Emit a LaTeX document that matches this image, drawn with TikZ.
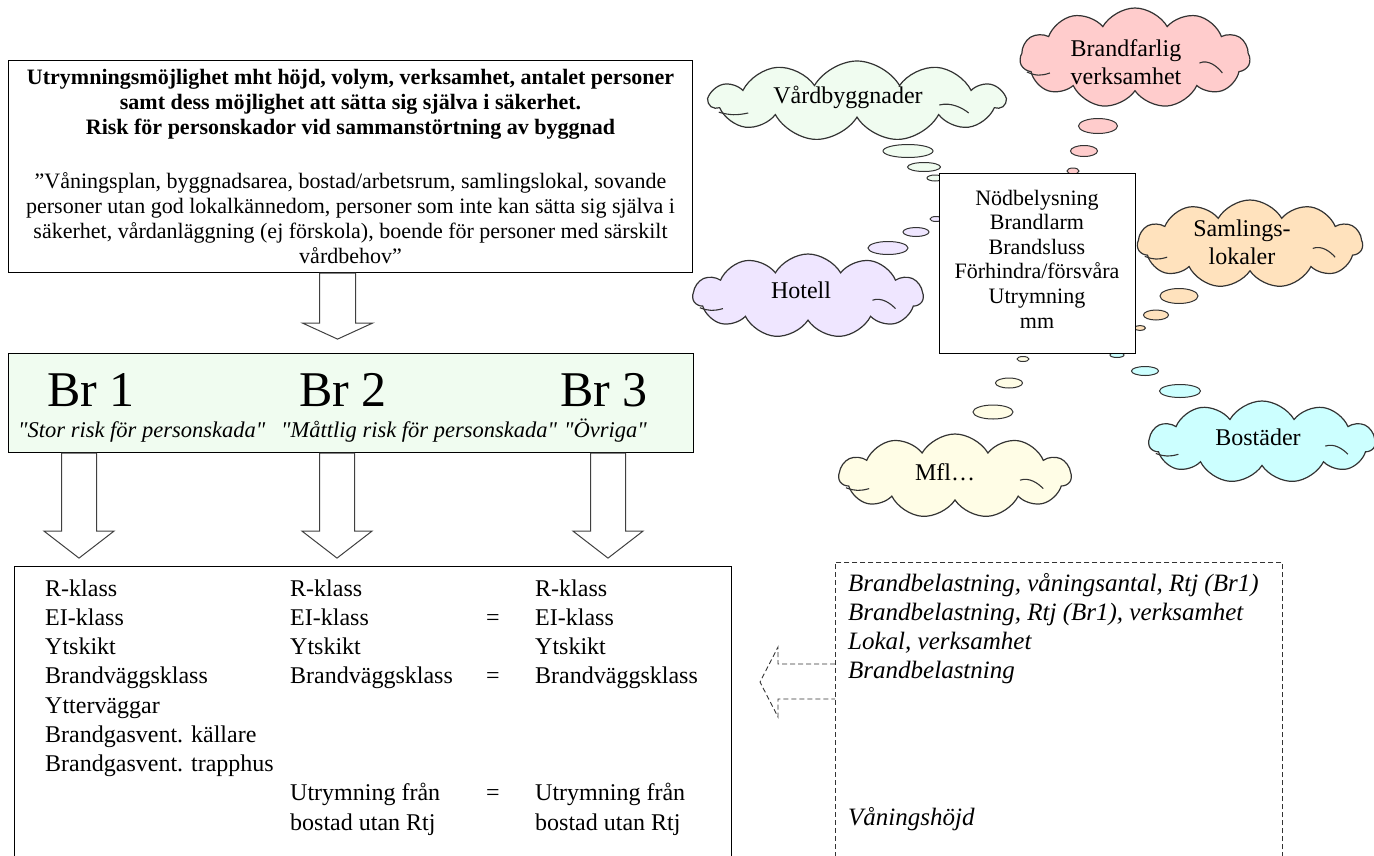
\documentclass[tikz,border=0pt]{standalone}
\usepackage{fontspec}
\setmainfont{Liberation Serif}
\usetikzlibrary{shapes.symbols,shapes.geometric,calc}
\definecolor{brgreen}{HTML}{F0FCF0}
\definecolor{cgreen}{HTML}{F0FCF0}
\definecolor{cpink}{HTML}{FFCCCC}
\definecolor{cpeach}{HTML}{FFE2BD}
\definecolor{clav}{HTML}{EFE6FF}
\definecolor{ccream}{HTML}{FFFDE6}
\definecolor{ccyan}{HTML}{CCFFFF}
\newcommand\cloudcrease[3]{%
  \draw[carc] ($(#1.center)+(-0.94*#2,0.28*#3)$) .. controls +(0.08*#2,0.08*#3) and +(-0.08*#2,0.06*#3) .. ($(#1.center)+(-0.74*#2,0.30*#3)$);
  \draw[carc] ($(#1.center)+(0.56*#2,0.10*#3)$) .. controls +(0.08*#2,-0.08*#3) and +(-0.04*#2,-0.12*#3) .. ($(#1.center)+(0.76*#2,0.30*#3)$);
}
\begin{document}
\begin{tikzpicture}[x=1pt,y=-1pt,
  box/.style={draw=black, line width=1.1pt},
  barrow/.style={draw=black!75, fill=white, line width=1pt, line join=miter},
  darrow/.style={draw=black!80, line width=0.9pt, dash pattern=on 5pt off 3pt},
  cl/.style={cloud, cloud puffs=11, cloud puff arc=120, draw=black!80, line width=1.2pt, inner sep=0pt, outer sep=0pt},
  carc/.style={draw=black!80, line width=1.1pt},
  bub/.style={ellipse, draw=black!80, line width=1pt, inner sep=0pt},
  ctext/.style={font=\fontsize{24}{28}\selectfont, align=center, inner sep=0pt},
  ltext/.style={anchor=base west, font=\fontsize{24}{29}\selectfont, inner sep=0pt},
  dtext/.style={anchor=base west, font=\fontsize{25}{29}\selectfont\itshape, inner sep=0pt},
  stext/.style={anchor=base west, font=\fontsize{22.5}{23}\selectfont\itshape, inner sep=0pt},
  brtext/.style={anchor=base, font=\fontsize{50}{50}\selectfont, inner sep=0pt},
]
\useasboundingbox (0,0) rectangle (1374,855);

% ---------- top box ----------
\node[box, fill=white, minimum width=684pt, minimum height=212pt, anchor=north west, align=center,
      font=\fontsize{22}{25}\selectfont, inner sep=0pt] (top) at (8,60)
 {\textbf{Utrymningsmöjlighet mht höjd, volym, verksamhet, antalet personer}\\
  \textbf{samt dess möjlighet att sätta sig själva i säkerhet.}\\
  \textbf{Risk för personskador vid sammanstörtning av byggnad}\\[29pt]
  ”Våningsplan, byggnadsarea, bostad/arbetsrum, samlingslokal, sovande\\
  personer utan god lokalkännedom, personer som inte kan sätta sig själva i\\
  säkerhet, vårdanläggning (ej förskola), boende för personer med särskilt\\
  vårdbehov”};

% ---------- Br box ----------
\node[box, fill=brgreen, minimum width=685pt, minimum height=99pt, anchor=north west] (br) at (8,353) {};
\node[brtext] (br1) at (91,406) {Br 1};
\node[brtext] (br2) at (343,406) {Br 2};
\node[brtext] (br3) at (604,406) {Br 3};
\node[stext] (s1) at (18,437) {\textquotedbl Stor risk för personskada\textquotedbl};
\node[stext] (s2) at (281,437) {\textquotedbl Måttlig risk för personskada\textquotedbl};
\node[stext] (s3) at (564,437) {\textquotedbl Övriga\textquotedbl};

% arrow top -> Br
\path (top.south) ++(-13,0) coordinate (a0);
\draw[barrow] (a0) ++(-18,0) -- ++(0,50) -- ++(-17,0) -- ++(35,16) -- ++(35,-16) -- ++(-17,0) -- ++(0,-50) -- cycle;

% ---------- lower box ----------
\node[box, fill=white, minimum width=717pt, minimum height=320pt, anchor=north west] (low) at (14,566) {};

% arrows Br -> lower
\path (br.south west) ++(71,0) coordinate (a1);
\path (br.south west) ++(329,0) coordinate (a2);
\path (br.south west) ++(600,0) coordinate (a3);
\foreach \a in {a1,a2,a3}
  \draw[barrow] (\a) ++(-17.5,0) -- ++(0,78) -- ++(-17.5,0) -- ++(35,27) -- ++(35,-27) -- ++(-17.5,0) -- ++(0,-78) -- cycle;

\foreach \t [count=\i] in {R-klass, EI-klass, Ytskikt, Brandväggsklass, Ytterväggar, Brandgasvent. källare, Brandgasvent. trapphus}
  \node[ltext] (ca\i) at (45,{596+29.25*(\i-1)}) {\t};
\foreach \r/\t in {1/R-klass, 2/EI-klass, 3/Ytskikt, 4/Brandväggsklass, 8/Utrymning från, 9/bostad utan Rtj}
  \node[ltext] (cb\r) at (290,{596+29.25*(\r-1)}) {\t};
\foreach \r/\t in {1/R-klass, 2/EI-klass, 3/Ytskikt, 4/Brandväggsklass, 8/Utrymning från, 9/bostad utan Rtj}
  \node[ltext] (cc\r) at (535,{596+29.25*(\r-1)}) {\t};
\foreach \r in {2,4,8}
  \node[anchor=base, font=\fontsize{24}{29}\selectfont, inner sep=0pt] (eq\r) at (493,{596+29.25*(\r-1)}) {=};

% ---------- dashed box ----------
\node[draw=black!80, line width=0.9pt, dash pattern=on 5pt off 3pt, minimum width=447pt, minimum height=320pt, anchor=north west] (dash) at (835,562) {};
\node[dtext] (d1) at (848,591) {Brandbelastning, våningsantal, Rtj (Br1)};
\node[dtext] (d2) at (848,620) {Brandbelastning, Rtj (Br1), verksamhet};
\node[dtext] (d3) at (848,649) {Lokal, verksamhet};
\node[dtext] (d4) at (848,678) {Brandbelastning};
\node[dtext] (d5) at (848,825) {Våningshöjd};
\path (dash.north west) ++(0,102) coordinate (da);
\draw[darrow] (da) -- ++(-57,0) -- ++(0,-17) -- ++(-18,35) -- ++(18,35) -- ++(0,-18) -- ++(57,0);

% ---------- clouds ----------
\node[cl, fill=cgreen, minimum width=295pt, minimum height=80pt] (cvard) at (857,101) {};
\cloudcrease{cvard}{147}{40}
\node[ctext] (tvard) at (848,97) {Vårdbyggnader};
\node[bub, fill=cgreen, minimum width=50pt, minimum height=13pt] (vb1) at (908,151) {};
\node[bub, fill=cgreen, minimum width=33pt, minimum height=9pt] (vb2) at (924,167) {};
\node[bub, fill=cgreen, minimum width=16pt, minimum height=6pt] (vb3) at (935,178) {};

\node[cl, fill=cpink, minimum width=230pt, minimum height=100pt] (cpinkc) at (1135,58) {};
\cloudcrease{cpinkc}{115}{50}
\node[ctext] (tpink) at (1126,62) {Brandfarlig\\verksamhet};
\node[bub, fill=cpink, minimum width=39pt, minimum height=15pt] (pb1) at (1098,126) {};
\node[bub, fill=cpink, minimum width=27pt, minimum height=11pt] (pb2) at (1084,151) {};
\node[bub, fill=cpink, minimum width=12pt, minimum height=6pt] (pb3) at (1073,171) {};

\node[cl, fill=cpeach, minimum width=225pt, minimum height=88pt] (csaml) at (1250,244) {};
\cloudcrease{csaml}{112}{44}
\node[ctext] (tsaml) at (1242,242) {Samlings-\\lokaler};
\node[bub, fill=cpeach, minimum width=38pt, minimum height=15pt] (sb1) at (1179,296) {};
\node[bub, fill=cpeach, minimum width=25pt, minimum height=10pt] (sb2) at (1156,315) {};
\node[bub, fill=cpeach, minimum width=11pt, minimum height=5pt] (sb3) at (1140,328) {};

\node[cl, fill=clav, minimum width=230pt, minimum height=84pt] (chot) at (808,296) {};
\cloudcrease{chot}{115}{42}
\node[ctext] (thot) at (801,290) {Hotell};
\node[bub, fill=clav, minimum width=40pt, minimum height=13pt] (hb1) at (888,248) {};
\node[bub, fill=clav, minimum width=26pt, minimum height=9pt] (hb2) at (916,232) {};
\node[bub, fill=clav, minimum width=12pt, minimum height=5pt] (hb3) at (936,219) {};

\node[cl, fill=ccream, minimum width=232pt, minimum height=84pt] (cmfl) at (955,476) {};
\cloudcrease{cmfl}{116}{42}
\node[ctext] (tmfl) at (945,472) {Mfl…};
\node[bub, fill=ccream, minimum width=40pt, minimum height=14pt] (mb1) at (993,412) {};
\node[bub, fill=ccream, minimum width=27pt, minimum height=10pt] (mb2) at (1009,383) {};
\node[bub, fill=ccream, minimum width=12pt, minimum height=5pt] (mb3) at (1023,359) {};

\node[cl, fill=ccyan, minimum width=226pt, minimum height=82pt] (cbost) at (1262,442) {};
\cloudcrease{cbost}{113}{41}
\node[ctext] (tbost) at (1258,437) {Bostäder};
\node[bub, fill=ccyan, minimum width=41pt, minimum height=13pt] (bb1) at (1180,391) {};
\node[bub, fill=ccyan, minimum width=27pt, minimum height=9pt] (bb2) at (1145,371) {};
\node[bub, fill=ccyan, minimum width=14pt, minimum height=5pt] (bb3) at (1117,355) {};

% ---------- central box ----------
\node[draw=black, line width=1pt, fill=white, minimum width=196pt, minimum height=180pt, anchor=north west] (mid) at (939,173) {};
\node[align=center, font=\fontsize{22}{24.6}\selectfont, inner sep=0pt] (midt) at (1037,259)
 {Nödbelysning\\Brandlarm\\Brandsluss\\Förhindra/försvåra\\Utrymning\\mm};
\end{tikzpicture}
\end{document}
